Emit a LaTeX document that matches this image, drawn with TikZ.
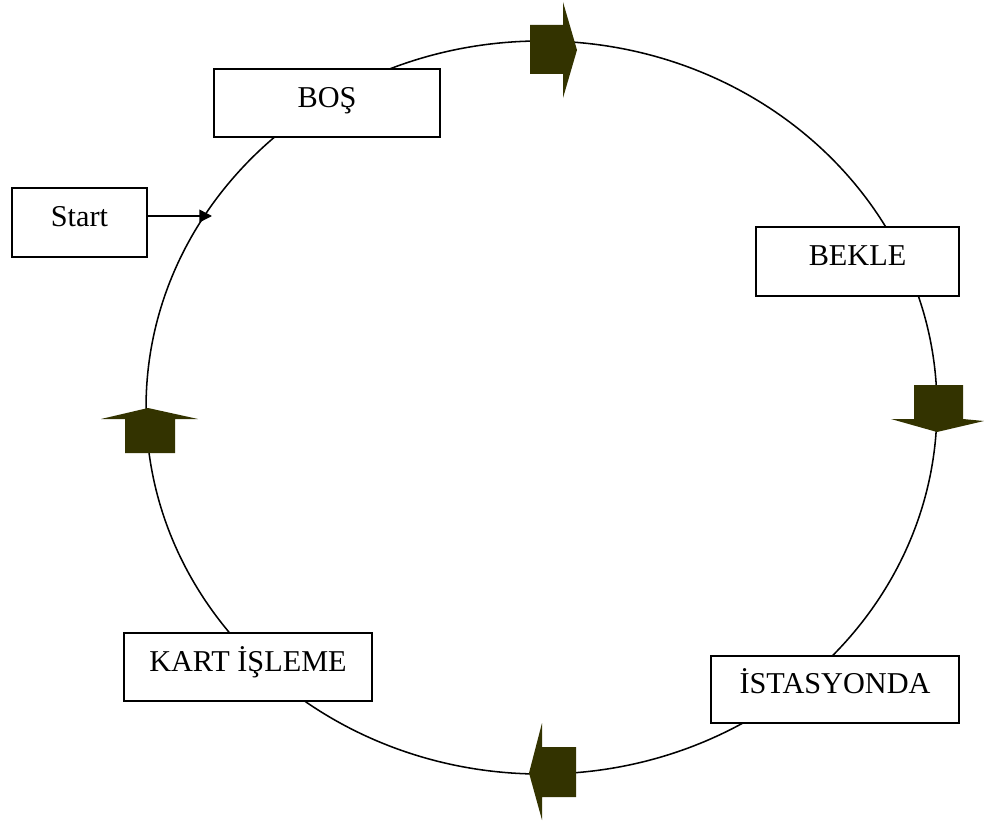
\documentclass[tikz,border=0pt]{standalone}
\usepackage{fontspec}
\setmainfont{Liberation Serif}
\usetikzlibrary{arrows.meta}
\definecolor{olivedark}{HTML}{333300}
\tikzset{
  statebox/.style={draw=black, line width=1.3pt, fill=white, rectangle,
    inner sep=0pt, font=\fontsize{22.7}{27}\selectfont,
    text height=16pt, text depth=10pt},
  ring/.style={draw=black, line width=1.15pt},
  blockarrow/.style={fill=olivedark, draw=none},
  startline/.style={draw=black, line width=1.1pt, -{Triangle[length=9.5pt,width=9.5pt]}}
}
\begin{document}
\begin{tikzpicture}[x=0.75pt,y=-0.75pt]
\useasboundingbox (0,0) rectangle (984,824);

% the cycle
\draw[ring] (541.5,407.5) ellipse [x radius=296.6pt, y radius=274.9pt];

% block arrows on the cycle
% right-pointing (top)
\fill[blockarrow] (530,25) -- (563,25) -- (563,2) -- (577,50) -- (563,98) -- (563,74) -- (530,74) -- cycle;
% down-pointing (right)
\fill[blockarrow] (914,385) -- (963,385) -- (963,419) -- (984,421) -- (937,432) -- (891,419) -- (914,419) -- cycle;
% left-pointing (bottom)
\fill[blockarrow] (576,747) -- (576,797) -- (542,797) -- (542,820) -- (529,773) -- (542,723) -- (542,747) -- cycle;
% up-pointing (left)
\fill[blockarrow] (125,453) -- (125,419) -- (101,419) -- (148,408) -- (198,419) -- (175,419) -- (175,453) -- cycle;

% states
\node[statebox, minimum width=169.5pt, minimum height=51pt] (bos) at (327,103) {BOŞ};
\node[statebox, minimum width=152pt, minimum height=51.75pt] (bekle) at (857.5,261.5) {BEKLE};
\node[statebox, minimum width=186pt, minimum height=50.25pt] (istasyon) at (835,689.5) {İSTASYONDA};
\node[statebox, minimum width=186pt, minimum height=51pt] (kart) at (248,667) {KART İŞLEME};
\node[statebox, minimum width=101.25pt, minimum height=51.75pt] (start) at (79.5,222.5) {Start};

% entry into the cycle
\coordinate (entry) at (212,216);
\draw[startline] (start.east |- entry) -- (entry);
\end{tikzpicture}
\end{document}
